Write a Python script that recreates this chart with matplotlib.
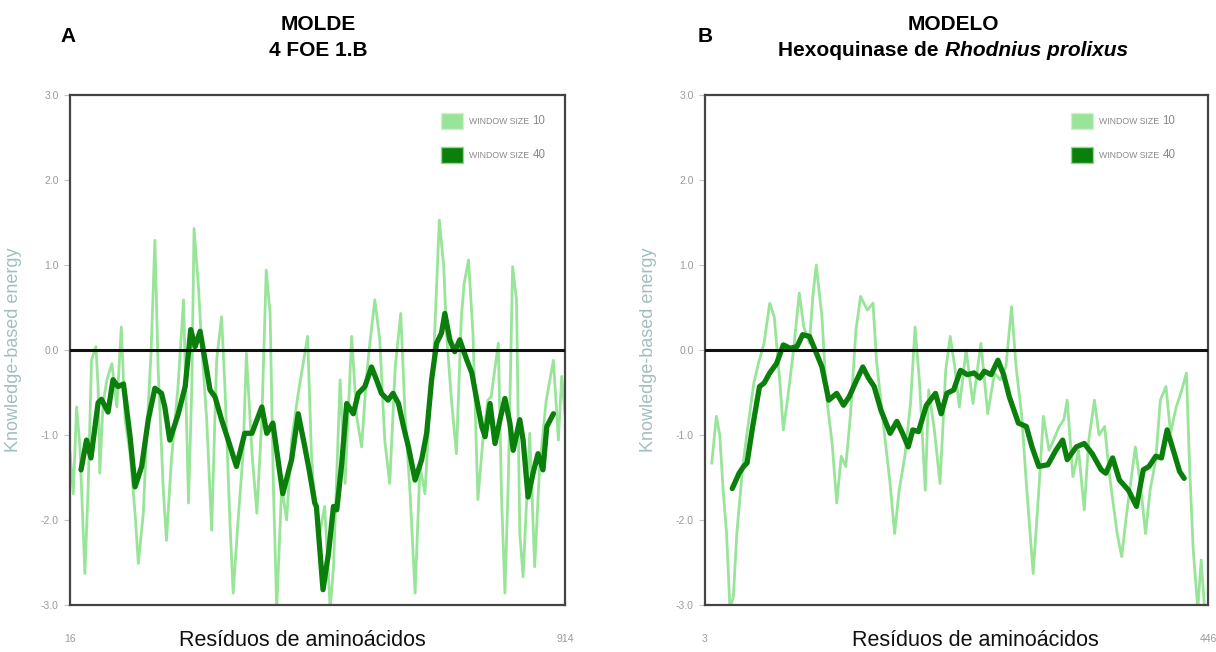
import matplotlib
matplotlib.use("Agg")
import matplotlib.pyplot as plt
from matplotlib.patches import Rectangle

# ---------------- data ----------------
a_res10 = [16, 22, 28, 34, 43, 49, 55, 63, 67, 70, 76, 83, 92, 101, 109, 116, 125, 134, 140, 149, 155, 163, 170,
           176, 185, 191, 200, 212, 222, 231, 237, 241, 249, 255, 264, 273, 282, 291, 297, 306, 312, 321, 330,
           336, 346, 355, 364, 372, 379, 385, 391, 400, 409, 418, 430, 439, 447, 454, 457, 469, 478, 488, 494,
           506, 515, 527, 536, 545, 554, 560, 569, 578, 587, 596, 606, 616, 624, 633, 642, 651, 660, 669, 675,
           686, 694, 699, 708, 717, 726, 731, 739, 747, 756, 765, 774, 780, 793, 799, 805, 811, 819, 826, 832,
           838, 850, 859, 868, 880, 893, 902, 908, 914]
a_e10 = [-1.2, -1.69, -0.67, -1.14, -2.63, -1.61, -0.12, 0.04, -0.43, -1.45, -0.63, -0.35, -0.16, -0.67, 0.27, -0.82,
         -1.22, -1.92, -2.51, -1.92, -1.02, -0.04, 1.29, -0.24, -1.61, -2.24, -1.29, -0.43, 0.59, -1.80, -0.43,
         1.43, 0.75, 0.04, -0.82, -2.12, -0.12, 0.39, -0.43, -2.00, -2.86, -2.00, -1.22, -0.04, -1.20, -1.92,
         -0.82, 0.94, 0.43, -1.61, -3.05, -1.61, -2.00, -1.06, -0.51, -0.16, 0.16, -1.22, -1.53, -2.16, -1.84,
         -3.05, -2.55, -0.35, -1.57, 0.16, -0.78, -1.14, -0.31, 0.08, 0.59, 0.12, -1.06, -1.57, -0.20, 0.43,
         -0.78, -1.69, -2.86, -1.37, -1.69, -0.59, -0.20, 1.53, 0.98, 0.20, -0.59, -1.22, 0.39, 0.78, 1.06, 0.20,
         -1.76, -1.06, -0.59, -0.55, 0.08, -1.76, -2.86, -1.57, 0.98, 0.59, -2.16, -2.67, -0.98, -2.55, -1.37,
         -0.59, -0.12, -1.06, -0.31, -0.75]

a_res40 = [36, 46, 54, 67, 73, 85, 94, 103, 113, 125, 134, 146, 158, 170, 182, 188, 197, 212, 225, 235, 243, 252,
           261, 270, 279, 291, 303, 318, 333, 346, 364, 373, 384, 402, 418, 430, 442, 451, 460, 463, 475, 485,
           494, 500, 509, 518, 530, 539, 551, 563, 572, 581, 593, 602, 612, 621, 630, 642, 654, 663, 672, 681,
           690, 696, 705, 714, 723, 736, 745, 754, 763, 769, 778, 787, 796, 805, 814, 820, 832, 838, 847, 856,
           865, 874, 881, 893]
a_e40 = [-1.41, -1.06, -1.27, -0.62, -0.58, -0.73, -0.35, -0.43, -0.40, -1.02, -1.61, -1.37, -0.82, -0.45, -0.51,
         -0.67, -1.06, -0.76, -0.43, 0.24, 0.04, 0.22, -0.12, -0.47, -0.55, -0.82, -1.06, -1.37, -0.98, -0.98,
         -0.67, -0.98, -0.86, -1.69, -1.29, -0.75, -1.14, -1.45, -1.80, -1.84, -2.82, -2.39, -1.84, -1.88,
         -1.33, -0.63, -0.75, -0.51, -0.43, -0.20, -0.35, -0.51, -0.59, -0.51, -0.63, -0.90, -1.14, -1.53,
         -1.29, -0.98, -0.35, 0.08, 0.20, 0.43, 0.12, -0.02, 0.12, -0.12, -0.27, -0.59, -0.90, -1.02, -0.63,
         -1.10, -0.82, -0.57, -0.86, -1.18, -0.82, -1.06, -1.73, -1.45, -1.22, -1.41, -0.90, -0.75]

b_res10 = [9, 13, 16, 19, 22, 25, 28, 31, 36, 40, 46, 50, 55, 60, 64, 69, 72, 76, 81, 86, 90, 95, 98, 101, 106,
           110, 115, 119, 123, 127, 131, 136, 140, 146, 151, 154, 160, 166, 170, 174, 179, 184, 188, 192, 197,
           200, 205, 210, 215, 219, 223, 227, 233, 239, 246, 252, 258, 263, 268, 273, 277, 282, 286, 292, 297,
           301, 306, 310, 315, 319, 322, 327, 332, 337, 341, 346, 350, 355, 359, 366, 370, 374, 379, 382, 387,
           391, 395, 400, 404, 409, 413, 418, 422, 427, 430, 433, 437, 440, 443]
b_e10 = [-1.33, -0.78, -1.0, -1.65, -2.16, -3.05, -2.9, -2.16, -1.4, -0.98, -0.39, -0.16, 0.08, 0.55, 0.39, -0.39,
         -0.94, -0.55, 0.0, 0.67, 0.27, 0.08, 0.63, 1.0, 0.39, -0.55, -1.10, -1.80, -1.25, -1.37, -0.78, 0.24,
         0.63, 0.47, 0.55, -0.12, -0.86, -1.57, -2.16, -1.65, -1.25, -0.63, 0.27, -0.39, -1.65, -0.47, -0.94,
         -1.57, -0.24, 0.16, -0.2, -0.67, 0.0, -0.63, 0.08, -0.75, -0.27, -0.35, -0.2, 0.51, -0.2, -0.78, -1.57,
         -2.63, -1.65, -0.78, -1.18, -1.06, -0.9, -0.82, -0.59, -1.49, -1.18, -1.88, -1.06, -0.59, -1.0, -0.9,
         -1.45, -2.16, -2.43, -1.96, -1.45, -1.14, -1.65, -2.16, -1.65, -1.29, -0.59, -0.43, -0.98, -0.67,
         -0.51, -0.27, -1.45, -2.35, -3.05, -2.47, -3.05]

b_res40 = [27, 33, 37, 40, 45, 51, 55, 60, 66, 72, 78, 84, 89, 95, 100, 106, 112, 119, 125, 130, 136, 142, 147,
           152, 158, 166, 172, 177, 182, 186, 191, 198, 206, 211, 216, 222, 228, 234, 240, 245, 249, 255, 261,
           266, 271, 279, 286, 291, 297, 305, 312, 318, 322, 330, 337, 344, 352, 356, 362, 368, 376, 383, 389,
           394, 400, 405, 410, 415, 421, 425]
b_e40 = [-1.63, -1.45, -1.37, -1.33, -0.90, -0.43, -0.39, -0.27, -0.16, 0.06, 0.02, 0.04, 0.18, 0.16, 0.0, -0.2,
         -0.59, -0.51, -0.65, -0.55, -0.37, -0.2, -0.33, -0.43, -0.71, -0.98, -0.84, -0.98, -1.14, -0.94, -0.96,
         -0.65, -0.51, -0.75, -0.51, -0.47, -0.24, -0.29, -0.27, -0.33, -0.25, -0.29, -0.12, -0.29, -0.55, -0.86,
         -0.90, -1.14, -1.37, -1.35, -1.18, -1.06, -1.29, -1.14, -1.10, -1.22, -1.41, -1.45, -1.27, -1.53, -1.65,
         -1.84, -1.41, -1.37, -1.25, -1.27, -0.94, -1.16, -1.43, -1.51]

a_xlim = [16, 914]
b_xlim = [3, 446]
y_ticks = [3.0, 2.0, 1.0, 0.0, -1.0, -2.0, -3.0]
legend_words = "WINDOW SIZE"
legend_sizes = ["10", "40"]

# ---------------- style ----------------
W, H = 1216, 652
LIGHT = "#98e498"
DARK = "#0b7f0b"
FONT = ["Liberation Sans", "DejaVu Sans"]
plt.rcParams["font.family"] = FONT

fig = plt.figure(figsize=(W / 100, H / 100), dpi=100)
AX_B, AX_H = 605, 510
axA = fig.add_axes([70 / W, 1 - AX_B / H, 495 / W, AX_H / H])
axB = fig.add_axes([705 / W, 1 - AX_B / H, 503 / W, AX_H / H])


def style(ax, res10, e10, res40, e40, xlim, leg_px, ax_left, ax_w, xlabel_cx):
    ax.plot(res10, e10, color=LIGHT, lw=2.0, solid_joinstyle="round", zorder=2)
    ax.plot(res40, e40, color=DARK, lw=3.8, solid_joinstyle="round", solid_capstyle="round", zorder=3)
    ax.axhline(0, color="#111111", lw=2.2, zorder=4)
    ax.set_xlim(xlim)
    ax.set_ylim(-3.0, 3.0)
    ax.set_yticks(y_ticks)
    ax.set_yticklabels([f"{v:.1f}" for v in y_ticks])
    ax.set_xticks(xlim)
    ax.set_xticklabels([str(v) for v in xlim])
    ax.tick_params(axis="y", length=4, width=0.8, color="#c4c4c4", labelsize=7.5, labelcolor="#9a9a9a", pad=4)
    ax.tick_params(axis="x", length=0, labelsize=7.5, labelcolor="#9a9a9a", pad=21)
    for s in ax.spines.values():
        s.set_color("#444444")
        s.set_linewidth(1.6)
    ax.set_ylabel("Knowledge-based energy", fontsize=13, color="#a2bebe")
    ax.yaxis.set_label_coords(-48 / ax_w, 0.5)
    ax.set_xlabel("Resíduos de aminoácidos", fontsize=15.5, color="#111111")
    ax.xaxis.set_label_coords((xlabel_cx - ax_left) / ax_w, -(640 - AX_B) / AX_H)
    ax.xaxis.label.set_va("center")
    # legend drawn as swatches + small-caps-like text
    cols = [(LIGHT, "#cdf3cd"), (DARK, "#8fd88f")]
    for i, ((fc, ec), num) in enumerate(zip(cols, legend_sizes)):
        yc = 121 + 34 * i
        x0 = (leg_px - ax_left) / ax_w
        rect = Rectangle((x0, (AX_B - yc - 8) / AX_H), 22 / ax_w, 16 / AX_H, transform=ax.transAxes,
                         facecolor=fc, edgecolor=ec, lw=1.0, zorder=5)
        ax.add_patch(rect)
        t = ax.text((leg_px + 28 - ax_left) / ax_w, (AX_B - yc) / AX_H, legend_words, transform=ax.transAxes,
                    fontsize=6.3, color="#8a8a8a", va="center", ha="left", zorder=5)
        ax.annotate(num, xy=(1, 0), xycoords=t, xytext=(2.5, -1.2), textcoords="offset points",
                    fontsize=8.3, color="#8a8a8a", va="bottom", ha="left", zorder=5)


style(axA, a_res10, a_e10, a_res40, a_e40, a_xlim, 441, 70, 495, 302)
style(axB, b_res10, b_e10, b_res40, b_e40, b_xlim, 1071, 705, 503, 975)

# panel letters & titles
TS = 15
fig.text(68 / W, 1 - 36 / H, "A", fontsize=15, fontweight="bold", ha="center", va="center")
fig.text(705 / W, 1 - 36 / H, "B", fontsize=15, fontweight="bold", ha="center", va="center")
fig.text(318 / W, 1 - 25 / H, "MOLDE", fontsize=TS, fontweight="bold", ha="center", va="center")
fig.text(318 / W, 1 - 50 / H, "4 FOE 1.B", fontsize=TS, fontweight="bold", ha="center", va="center")
fig.text(953 / W, 1 - 25 / H, "MODELO", fontsize=TS, fontweight="bold", ha="center", va="center")

# mixed-style second title line for panel B
cx, cy = 953, 1 - 50 / H
t1 = fig.text(0, cy, "Hexoquinase de", fontsize=TS, fontweight="bold", ha="left", va="center")
t2 = fig.text(0, cy, "Rhodnius prolixus", fontsize=TS, fontweight="bold", fontstyle="italic",
              ha="left", va="center")
tsp = fig.text(0, cy, "a a", fontsize=TS, fontweight="bold", ha="left", va="center")
tnsp = fig.text(0, cy, "aa", fontsize=TS, fontweight="bold", ha="left", va="center")
fig.canvas.draw()
r = fig.canvas.get_renderer()
w1 = t1.get_window_extent(r).width
w2 = t2.get_window_extent(r).width
wsp = tsp.get_window_extent(r).width - tnsp.get_window_extent(r).width
tsp.remove()
tnsp.remove()
total = w1 + wsp + w2
x1 = cx - total / 2
t1.set_x(x1 / W)
t2.set_x((x1 + w1 + wsp) / W)

fig.savefig("out.png", dpi=100)
